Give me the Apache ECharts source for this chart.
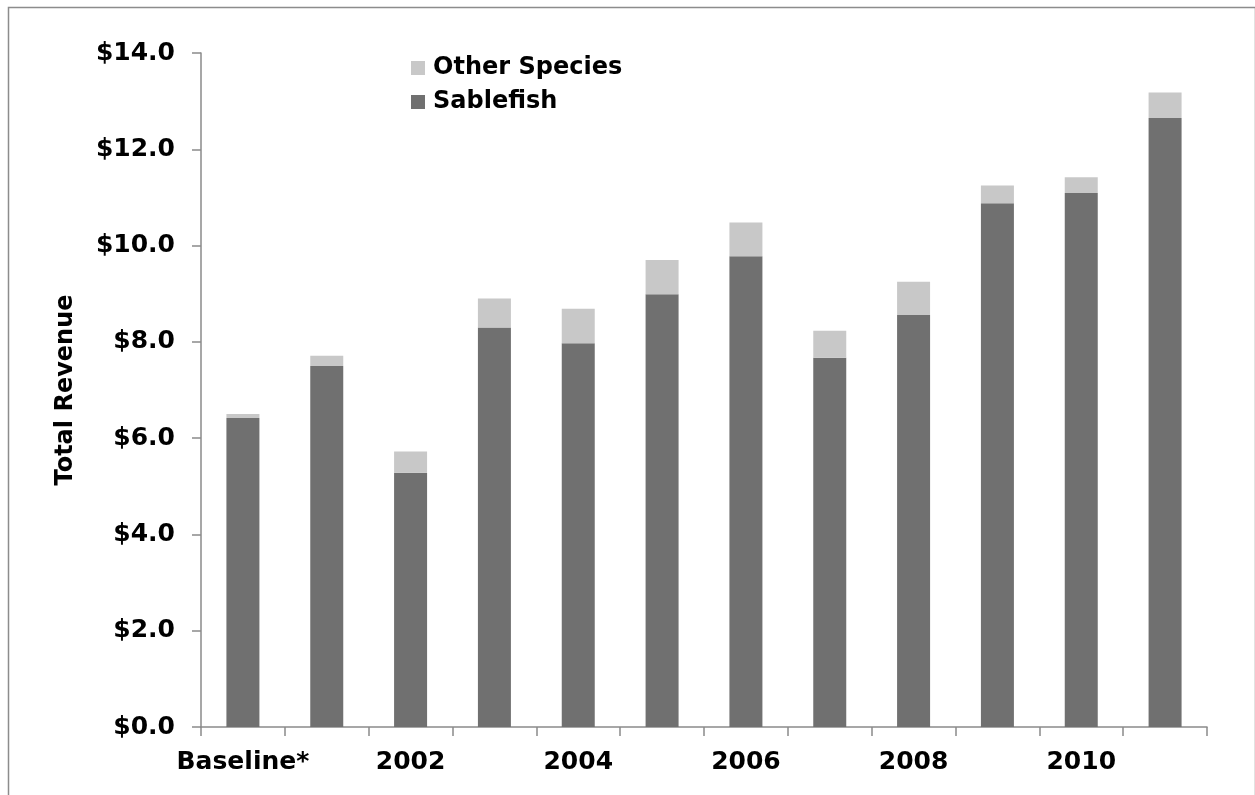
<!DOCTYPE html>
<html>
<head>
<meta charset="utf-8">
<title>Total Revenue</title>
<script src="https://cdn.jsdelivr.net/npm/echarts@6/dist/echarts.min.js"></script>
<style>
  html, body { margin: 0; padding: 0; background: #fff; }
  #chart { width: 1255px; height: 795px; }
</style>
</head>
<body>
<div id="chart"></div>
<script>
// Years shown on the category axis (every other one is labelled)
const categories = ['Baseline*', '2001', '2002', '2003', '2004', '2005', '2006', '2007', '2008', '2009', '2010', '2011'];

// Revenue by component, in millions of dollars
const sablefish = [6.42, 7.50, 5.28, 8.30, 7.97, 8.99, 9.78, 7.67, 8.56, 10.88, 11.09, 12.65];
const otherSpecies = [0.08, 0.21, 0.44, 0.60, 0.72, 0.71, 0.70, 0.56, 0.69, 0.37, 0.33, 0.53];

// Value axis ticks
const yTicks = { min: 0, max: 14, interval: 2 };

const FONT = '"DejaVu Sans", Verdana, sans-serif';
const AXIS_GREY = '#8a8a8a';
const FONT_SIZE = 25;

const chart = echarts.init(document.getElementById('chart'), null, { renderer: 'canvas' });

chart.setOption({
  animation: false,
  backgroundColor: '#ffffff',
  textStyle: { fontFamily: FONT },
  graphic: [{
    type: 'rect',
    left: 6, top: 5,
    shape: { width: 1247, height: 820 },
    style: { fill: 'none', stroke: '#8c8c8c', lineWidth: 1.5 },
    silent: true
  }],
  grid: { left: 201, right: 48, top: 53, bottom: 68, containLabel: false },
  legend: {
    orient: 'vertical',
    left: 411,
    top: 56,
    padding: 0,
    itemWidth: 14,
    itemHeight: 14,
    itemGap: 10,
    icon: 'rect',
    data: ['Other Species', 'Sablefish'],
    textStyle: { fontFamily: FONT, fontWeight: 'bold', fontSize: 24, color: '#000', padding: [0, 0, 0, 3] }
  },
  xAxis: {
    type: 'category',
    data: categories,
    axisLine: { lineStyle: { color: AXIS_GREY, width: 1.5 } },
    axisTick: { show: true, interval: 0, length: 9, alignWithLabel: false, lineStyle: { color: AXIS_GREY, width: 1.5 } },
    axisLabel: { interval: 1, margin: 23, fontFamily: FONT, fontWeight: 'bold', fontSize: FONT_SIZE, color: '#000' },
    splitLine: { show: false }
  },
  yAxis: {
    type: 'value',
    min: yTicks.min,
    max: yTicks.max,
    interval: yTicks.interval,
    name: 'Total Revenue',
    nameLocation: 'middle',
    nameRotate: 90,
    nameGap: 123,
    nameTextStyle: { fontFamily: FONT, fontWeight: 'bold', fontSize: 24, color: '#000' },
    axisLine: { show: true, lineStyle: { color: AXIS_GREY, width: 1.5 } },
    axisTick: { show: true, length: 9, lineStyle: { color: AXIS_GREY, width: 1.5 } },
    axisLabel: {
      margin: 26,
      fontFamily: FONT, fontWeight: 'bold', fontSize: FONT_SIZE, color: '#000',
      formatter: v => '$' + v.toFixed(1)
    },
    splitLine: { show: false }
  },
  series: [
    {
      name: 'Sablefish',
      type: 'bar',
      stack: 'revenue',
      barWidth: 33,
      data: sablefish,
      itemStyle: { color: '#707070' }
    },
    {
      name: 'Other Species',
      type: 'bar',
      stack: 'revenue',
      barWidth: 33,
      data: otherSpecies,
      itemStyle: { color: '#c8c8c8' }
    }
  ]
});
</script>
</body>
</html>
